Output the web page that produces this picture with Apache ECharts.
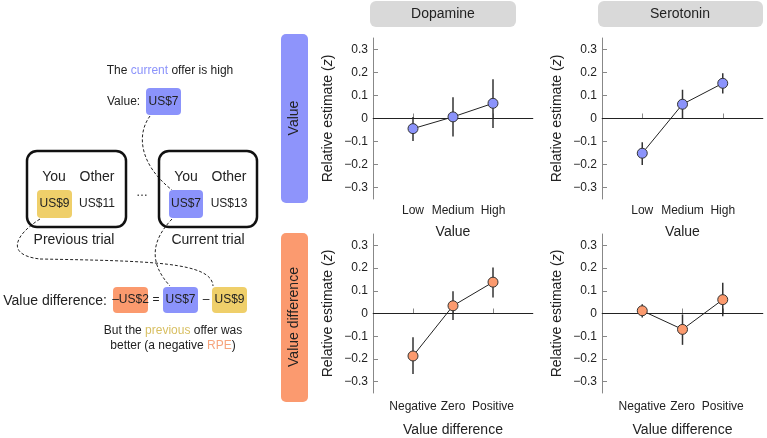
<!DOCTYPE html>
<html lang="en">
<head>
    <meta charset="UTF-8">
    <title>Dopamine and serotonin estimates</title>
    <style>
        html, body { margin: 0; padding: 0; background: #fff; }
        #main { width: 767px; height: 438px; }
    </style>
</head>
<body>
    <div id="main"></div>
    <script src="https://cdn.jsdelivr.net/npm/echarts@6/dist/echarts.min.js"></script>
    <script>
        // categories
        var valueCats = ['Low', 'Medium', 'High'];
        var diffCats = ['Negative', 'Zero', 'Positive'];
        var yTicks = [-0.3, -0.2, -0.1, 0, 0.1, 0.2, 0.3];

        // dopamine, value
        var daValue = [-0.044, 0.007, 0.066];
        var daValueLo = [-0.098, -0.078, -0.041];
        var daValueHi = [0.007, 0.092, 0.171];
        // serotonin, value
        var htValue = [-0.151, 0.062, 0.153];
        var htValueLo = [-0.202, 0.0, 0.109];
        var htValueHi = [-0.103, 0.125, 0.197];
        // dopamine, value difference
        var daDiff = [-0.187, 0.034, 0.138];
        var daDiffLo = [-0.266, -0.029, 0.070];
        var daDiffHi = [-0.105, 0.098, 0.202];
        // serotonin, value difference
        var htDiff = [0.012, -0.070, 0.061];
        var htDiffLo = [-0.018, -0.138, -0.012];
        var htDiffHi = [0.041, -0.004, 0.135];

        var FONT = 'Liberation Sans, Arial, sans-serif';
        var BLUE = '#8b93fb';
        var ORANGE = '#fb9a6e';
        var YELLOW = '#efcf6a';
        var INK = '#222';

        var grids = [
            { left: 373, top: 38, width: 160, height: 161 },
            { left: 602, top: 38, width: 161, height: 161 },
            { left: 373, top: 234, width: 160, height: 161 },
            { left: 602, top: 234, width: 161, height: 161 }
        ];

        function xAxisFor(idx, cats, name, gap, margin) {
            return {
                type: 'category',
                gridIndex: idx,
                data: [''].concat(cats, ['']),
                boundaryGap: false,
                axisLine: { lineStyle: { color: '#888', width: 1 } },
                axisTick: {
                    inside: true, length: 5, lineStyle: { color: '#888' },
                    interval: function (i, v) { return v !== ''; }
                },
                axisLabel: { interval: 0, color: INK, fontSize: 12, margin: margin, fontFamily: FONT },
                name: name,
                nameLocation: 'middle',
                nameGap: gap,
                nameTextStyle: { color: INK, fontSize: 14, fontFamily: FONT }
            };
        }

        function yAxisFor(idx) {
            return {
                type: 'value',
                gridIndex: idx,
                min: -0.35,
                max: 0.35,
                splitLine: { show: false },
                axisLine: { show: true, lineStyle: { color: '#888', width: 1 } },
                axisTick: { show: true, inside: true, length: 5, customValues: yTicks, lineStyle: { color: '#888' } },
                axisLabel: {
                    customValues: yTicks, color: INK, fontSize: 12, margin: 5, fontFamily: FONT,
                    formatter: function (v) {
                        var r = Math.round(v * 10) / 10;
                        if (r === 0) return '0';
                        return (r < 0 ? '\u2212' : '') + Math.abs(r).toFixed(1);
                    }
                },
                name: 'Relative estimate ({i|z})',
                nameLocation: 'middle',
                nameGap: 38,
                nameTextStyle: {
                    color: INK, fontSize: 14, fontFamily: FONT,
                    rich: { i: { fontStyle: 'italic', fontSize: 14, fontFamily: FONT, color: INK } }
                }
            };
        }

        function errSeries(idx, cats, lo, hi) {
            return {
                type: 'custom',
                xAxisIndex: idx,
                yAxisIndex: idx,
                z: 2,
                encode: { x: 0, y: [1, 2] },
                data: cats.map(function (c, i) { return [c, lo[i], hi[i]]; }),
                renderItem: function (params, api) {
                    var a = api.coord([api.value(0), api.value(1)]);
                    var b = api.coord([api.value(0), api.value(2)]);
                    return {
                        type: 'line',
                        shape: { x1: a[0], y1: a[1], x2: b[0], y2: b[1] },
                        style: { stroke: '#333', lineWidth: 1.5 }
                    };
                }
            };
        }

        function pointSeries(idx, cats, vals, color) {
            return {
                type: 'line',
                xAxisIndex: idx,
                yAxisIndex: idx,
                z: 5,
                data: cats.map(function (c, i) { return [c, vals[i]]; }),
                symbol: 'circle',
                symbolSize: 10,
                lineStyle: { color: INK, width: 1 },
                itemStyle: { color: color, borderColor: '#333', borderWidth: 1 },
                markLine: {
                    silent: true,
                    symbol: 'none',
                    label: { show: false },
                    lineStyle: { color: INK, type: 'solid', width: 1.2 },
                    data: [{ yAxis: 0 }]
                }
            };
        }

        function txt(x, y, text, size, align, rich) {
            var s = {
                text: text, x: x, y: y, fill: INK,
                font: size + 'px ' + FONT,
                textAlign: align || 'center', textVerticalAlign: 'middle'
            };
            if (rich) s.rich = rich;
            return { type: 'text', z: 10, style: s };
        }
        function vtxt(x, y, text) {
            return { type: 'text', z: 10, x: x, y: y, rotation: Math.PI / 2,
                style: { text: text, fill: INK, font: '14px ' + FONT, textAlign: 'center', textVerticalAlign: 'middle' } };
        }
        function box(x, y, w, h, fill, r) {
            return { type: 'rect', z: 9, shape: { x: x, y: y, width: w, height: h, r: r || 4 }, style: { fill: fill } };
        }
        function frame(x, y, w, h) {
            return { type: 'rect', z: 9, shape: { x: x, y: y, width: w, height: h, r: 10 }, style: { fill: null, stroke: '#111', lineWidth: 2.5 } };
        }
        function dash(x1, y1, c1x, c1y, c2x, c2y, x2, y2) {
            return {
                type: 'bezierCurve', z: 8,
                shape: { x1: x1, y1: y1, cpx1: c1x, cpy1: c1y, cpx2: c2x, cpy2: c2y, x2: x2, y2: y2 },
                style: { stroke: INK, lineWidth: 1, lineDash: [3, 2], fill: null }
            };
        }

        var richWords = {
            b: { fill: BLUE, color: BLUE, font: '12px ' + FONT },
            y: { fill: '#d8bf62', color: '#d8bf62', font: '12px ' + FONT },
            o: { fill: '#f6a47c', color: '#f6a47c', font: '12px ' + FONT }
        };

        var graphics = [
            // column headers
            box(370, 1, 146, 26, '#d9d9d9', 6),
            txt(443, 14, 'Dopamine', 14),
            box(598, 1, 165, 26, '#d9d9d9', 6),
            txt(680, 14, 'Serotonin', 14),
            // row headers
            box(281, 34, 27, 169, '#8e94fb', 5),
            vtxt(294.5, 118, 'Value'),
            box(281, 233, 27, 169, '#fb9a6f', 5),
            vtxt(294.5, 317, 'Value difference'),
            // left diagram
            txt(170, 71, 'The {b|current} offer is high', 12, 'center', richWords),
            txt(107, 102, 'Value:', 12, 'left'),
            box(146, 88, 35, 27, BLUE),
            txt(163.5, 102, 'US$7', 12),
            frame(27, 151, 99, 76),
            frame(159, 151, 98, 76),
            txt(54, 177, 'You', 14), txt(97, 177, 'Other', 14),
            txt(186, 177, 'You', 14), txt(229, 177, 'Other', 14),
            box(37, 190, 35, 28, YELLOW), txt(54.5, 204, 'US$9', 12), txt(97, 204, 'US$11', 12),
            box(169, 190, 34, 28, BLUE), txt(186, 204, 'US$7', 12), txt(229, 204, 'US$13', 12),
            txt(142, 193, '\u2026', 12),
            txt(74, 240, 'Previous trial', 14), txt(208, 240, 'Current trial', 14),
            txt(107, 301, 'Value difference:', 14, 'right'),
            box(113, 287, 35, 26, ORANGE), txt(130.5, 300, '\u2013US$2', 12),
            txt(156, 300, '=', 12),
            box(163, 287, 35, 26, BLUE), txt(180.5, 300, 'US$7', 12),
            txt(206, 300, '\u2013', 12),
            box(212, 287, 35, 26, YELLOW), txt(229.5, 300, 'US$9', 12),
            txt(173, 331, 'But the {y|previous} offer was', 12, 'center', richWords),
            txt(173, 346, 'better (a negative {o|RPE})', 12, 'center', richWords),
            dash(150, 116, 136, 135, 140, 165, 172, 190),
            dash(40, 219, 15, 235, 5, 255, 40, 259),
            dash(40, 259, 150, 261, 212, 262, 213, 286),
            dash(172, 219, 152, 240, 148, 262, 170, 286)
        ];

        var chart = echarts.init(document.getElementById('main'), null, { renderer: 'canvas' });
        chart.setOption({
            animation: false,
            textStyle: { fontFamily: FONT },
            grid: grids,
            xAxis: [
                xAxisFor(0, valueCats, 'Value', 26, 6),
                xAxisFor(1, valueCats, 'Value', 26, 6),
                xAxisFor(2, diffCats, 'Value difference', 30, 8),
                xAxisFor(3, diffCats, 'Value difference', 30, 8)
            ],
            yAxis: [yAxisFor(0), yAxisFor(1), yAxisFor(2), yAxisFor(3)],
            series: [
                errSeries(0, valueCats, daValueLo, daValueHi),
                pointSeries(0, valueCats, daValue, BLUE),
                errSeries(1, valueCats, htValueLo, htValueHi),
                pointSeries(1, valueCats, htValue, BLUE),
                errSeries(2, diffCats, daDiffLo, daDiffHi),
                pointSeries(2, diffCats, daDiff, ORANGE),
                errSeries(3, diffCats, htDiffLo, htDiffHi),
                pointSeries(3, diffCats, htDiff, ORANGE)
            ],
            graphic: { elements: graphics }
        });
    </script>
</body>
</html>
